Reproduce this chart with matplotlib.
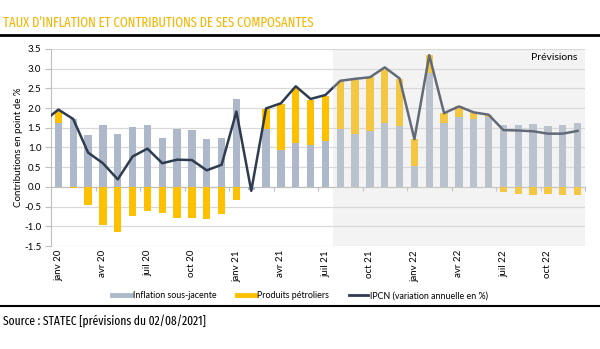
import os
import matplotlib
matplotlib.use("Agg")
import matplotlib.pyplot as plt
import matplotlib.font_manager as fm
from matplotlib.lines import Line2D
import numpy as np

plt.rcParams['axes.unicode_minus'] = False
plt.rcParams['font.family'] = ['Lato', 'DejaVu Sans']

# data, janv 20 .. dec 22
months = ["janv", "févr", "mars", "avr", "mai", "juin",
          "juil", "août", "sept", "oct", "nov", "déc"]
years = ["20", "21", "22"]
core = [1.62, 1.72, 1.32, 1.58, 1.34, 1.51, 1.58, 1.25, 1.47, 1.45, 1.22, 1.24,
        2.24, -0.08, 1.47, 0.94, 1.11, 1.05, 1.16, 1.47, 1.33, 1.42, 1.61, 1.55,
        0.52, 2.89, 1.62, 1.77, 1.72, 1.77, 1.56, 1.58, 1.59, 1.55, 1.56, 1.61]
petrol = [0.31, -0.03, -0.45, -0.96, -1.15, -0.74, -0.61, -0.66, -0.78, -0.78, -0.81, -0.68,
          -0.33, 0.0, 0.51, 1.17, 1.39, 1.16, 1.15, 1.21, 1.39, 1.36, 1.36, 1.19,
          0.69, 0.45, 0.25, 0.27, 0.17, 0.06, -0.13, -0.17, -0.21, -0.19, -0.20, -0.21]
# IPCN, first value is déc 19 (clipped at the left edge)
ipcn = [1.66, 1.96, 1.72, 0.87, 0.60, 0.19, 0.77, 0.97, 0.60, 0.69, 0.68, 0.42, 0.56,
        1.91, -0.10, 1.99, 2.12, 2.55, 2.23, 2.33, 2.69, 2.74, 2.78, 3.03, 2.75,
        1.21, 3.34, 1.87, 2.04, 1.89, 1.83, 1.44, 1.43, 1.41, 1.35, 1.35, 1.42]
forecast_start = 19  # août 21

labels = [m + " " + y for y in years for m in months]
core = np.array(core)
petrol = np.array(petrol)
x = np.arange(len(core))
bottom = np.where(petrol >= 0, np.maximum(core, 0), np.minimum(core, 0))

# pick a narrow regular font for the title / source if there is one
def rank(f):
    base = os.path.basename(f.fname)
    if 'ExtraCondensed' in base:
        r = 0
    elif 'SemiCondensed' in base:
        r = 2
    else:
        r = 1
    w = f.weight if isinstance(f.weight, int) else 400
    return (abs(w - 400), r, base)

cands = [f for f in fm.fontManager.ttflist
         if ('Condensed' in os.path.basename(f.fname) or 'Narrow' in os.path.basename(f.fname))
         and 'Italic' not in os.path.basename(f.fname) and f.style == 'normal']
if cands:
    cands.sort(key=rank)
    cond = dict(fontproperties=fm.FontProperties(fname=cands[0].fname))
else:
    cond = dict(family=['Roboto', 'DejaVu Sans'])

c_gray = '#ADB9CA'
c_yel = '#FFC000'
c_line = '#2F3B4F'
c_grid = '#D9D9D9'

fig = plt.figure(figsize=(6, 3.49), dpi=100)
ax = fig.add_axes([0.085, 0.295, 0.89, 0.565])

ax.bar(x, core, width=0.5, color=c_gray, zorder=2)
ax.bar(x, petrol, width=0.5, bottom=bottom, color=c_yel, zorder=2)
ax.plot(np.arange(-1, len(core)), ipcn, color=c_line, lw=1.8, zorder=3)

ax.axvspan(forecast_start - 0.5, len(core) - 0.5, color='#D9D9D9', alpha=0.3, lw=0, zorder=5)
ax.text(0.985, 0.955, "Prévisions", transform=ax.transAxes, ha='right', va='center',
        fontsize=7.5, zorder=6)

ax.set_xlim(-0.5, len(core) - 0.5)
ax.set_ylim(-1.5, 3.5)
ax.set_yticks(np.arange(-1.5, 3.51, 0.5))
ax.set_yticklabels([f"{v:.1f}" for v in np.arange(-1.5, 3.51, 0.5)], fontsize=7)
ax.yaxis.grid(True, color=c_grid, lw=0.9, zorder=0)
ax.set_axisbelow(True)

for s in ['top', 'right']:
    ax.spines[s].set_visible(False)
ax.spines['left'].set_color('#BFBFBF')
ax.spines['bottom'].set_position(('data', 0))
ax.spines['bottom'].set_color('#BFBFBF')
ax.spines['bottom'].set_zorder(1)
ax.tick_params(axis='y', colors='#BFBFBF', labelcolor='black', length=4, width=0.8, pad=3)
ax.set_xticks(np.arange(-0.5, len(core), 3))
ax.set_xticklabels([])
ax.tick_params(axis='x', colors='#BFBFBF', length=3, width=0.8)

for i in range(0, len(core), 3):
    ax.text(i, -0.02, labels[i], transform=ax.get_xaxis_transform(), rotation=90,
            ha='center', va='top', fontsize=7)

ax.set_ylabel("Contributions en point de %", fontsize=7, labelpad=1)

handles = [Line2D([], [], color=c_gray, lw=3.5),
           Line2D([], [], color=c_yel, lw=3.5),
           Line2D([], [], color=c_line, lw=2)]
fig.legend(handles, ["Inflation sous-jacente", "Produits pétroliers",
                     "IPCN (variation annuelle en %)"],
           loc='center', bbox_to_anchor=(0.5, 0.152), ncol=3, frameon=False,
           fontsize=6.4, handlelength=2.1, handletextpad=0.2, columnspacing=2.3)

title = fig.text(0.005, 0.935, "TAUX D’INFLATION ET CONTRIBUTIONS DE SES COMPOSANTES",
                 color='#F2B705', va='center', ha='left', **cond)
fig.add_artist(Line2D([0, 1], [0.9, 0.9], color='black', lw=2, transform=fig.transFigure))
fig.add_artist(Line2D([0, 1], [0.123, 0.123], color='black', lw=1.5, transform=fig.transFigure))
source = fig.text(0.005, 0.08, "Source : STATEC [prévisions du 02/08/2021]",
                  va='center', ha='left', **cond)

# size the narrow texts close to the width they have in the original
r = fig.canvas.get_renderer()
for t, size, width, cap in [(title, 10, 310, 11), (source, 8.5, 205, 9)]:
    t.set_fontsize(size)
    w = t.get_window_extent(r).width
    t.set_fontsize(min(cap, size * width / w))

fig.savefig("out.png", dpi=100)
